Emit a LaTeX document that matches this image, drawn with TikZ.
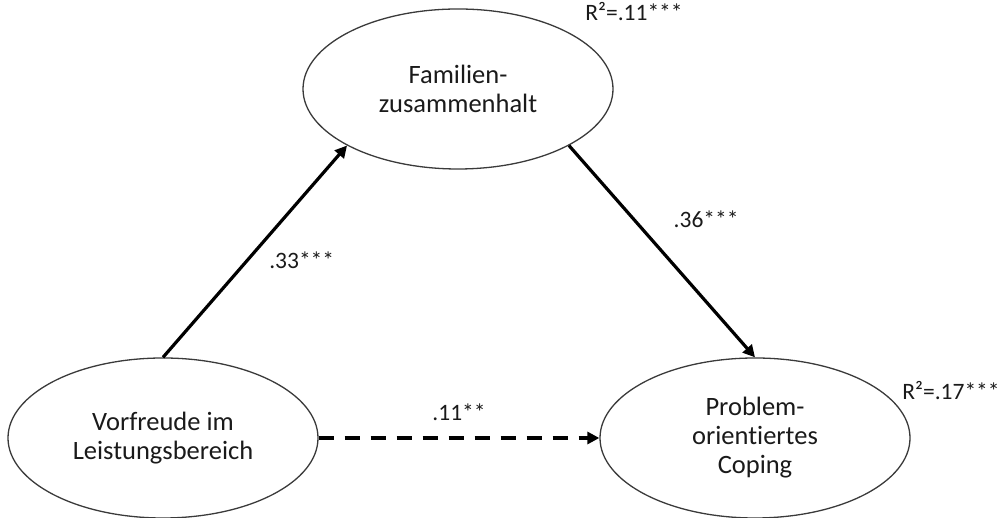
\documentclass[tikz,border=0pt]{standalone}
\usepackage{fontspec}
\setmainfont{Carlito}[Ligatures=NoCommon]
\usetikzlibrary{shapes.geometric,arrows.meta}
\definecolor{edgegray}{HTML}{3A3A3A}
\definecolor{txt}{HTML}{1A1A1A}
\begin{document}
\begin{tikzpicture}[x=1pt,y=1pt,
  latent/.style={ellipse,draw=edgegray,line width=1.3pt,inner sep=0pt,
    minimum width=310pt,minimum height=160pt,align=center,text=txt,
    font=\fontsize{26.5}{29}\selectfont},
  path/.style={line width=3.2pt,-{Triangle[length=12pt,width=12pt]}},
  dpath/.style={path,dash pattern=on 15pt off 11pt},
  coef/.style={text=txt,font=\fontsize{23.5}{27}\selectfont,inner sep=0pt}]
\useasboundingbox (0,0) rectangle (1008,518);
\node[latent] (fam) at (458,429) {Familien-\\zusammenhalt};
\node[latent] (vor) at (163,80) {Vorfreude im\\Leistungsbereich};
\node[latent] (cop) at (755,80) {Problem-\\orientiertes\\Coping};
\draw[path] (vor.north) -- node[coef,pos=0.46,anchor=west,xshift=20pt]{.33***} (fam.207.6);
\draw[path] (fam.333.2) -- node[coef,pos=0.35,anchor=west,xshift=38pt]{.36***} (cop.north);
\draw[dpath] (vor.east) -- node[coef,pos=0.5,yshift=26pt]{.11**} (cop.west);
\node[coef] (r2fam) at (634,506) {R²=.11***};
\node[coef] (r2cop) at (951,127) {R²=.17***};
\end{tikzpicture}
\end{document}
